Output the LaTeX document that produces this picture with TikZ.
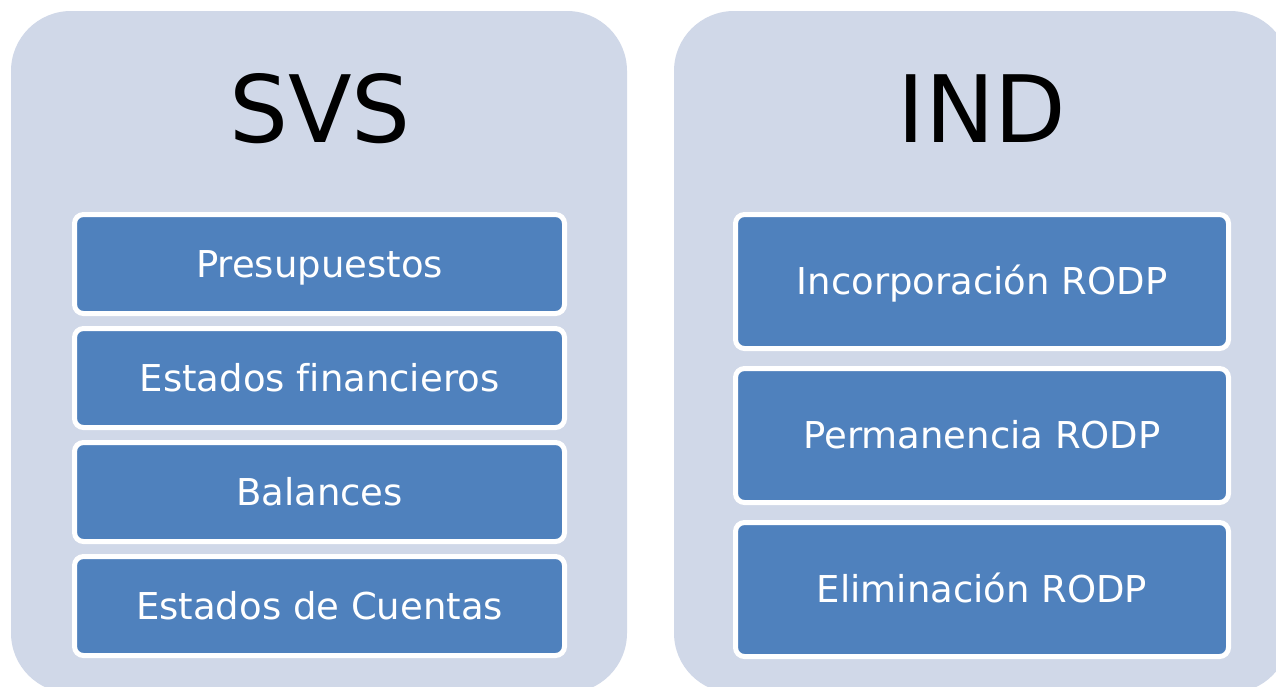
\documentclass[tikz,border=0pt]{standalone}
\usepackage{fontspec}
\setmainfont[Ligatures=NoCommon]{DejaVu Sans}
\definecolor{panelc}{HTML}{D0D8E8}
\definecolor{boxc}{HTML}{4F81BD}
\begin{document}
\begin{tikzpicture}[x=1pt,y=-1pt,
  panel/.style={rectangle, rounded corners=60pt, fill=panelc, draw=none, inner sep=0pt},
  title/.style={anchor=base, font=\fontsize{93}{93}\selectfont, text=black},
  lbox/.style={rectangle, rounded corners=9pt, fill=boxc, draw=white, line width=5pt,
    minimum width=490pt, minimum height=99pt, inner sep=0pt, text=white,
    font=\fontsize{37}{37}\selectfont, text height=26.5pt, text depth=0pt},
  rbox/.style={lbox, minimum width=493pt, minimum height=134pt}]
\useasboundingbox (0,0) rectangle (1276,686);
\clip (0,0) rectangle (1276,686);
\fill[white] (0,0) rectangle (1276,686);
\node[panel, minimum width=616pt, minimum height=682pt] (pl) at (319,352) {};
\node[panel, minimum width=616pt, minimum height=682pt] (pr) at (982,352) {};
\node[title] (svs) at (320,142) {SVS};
\node[title] (ind) at (982,142) {IND};
\node[lbox] (b1) at (319.5,264) {Presupuestos};
\node[lbox] (b2) at (319.5,378) {Estados financieros};
\node[lbox] (b3) at (319.5,492) {Balances};
\node[lbox] (b4) at (319.5,606) {Estados de Cuentas};
\node[rbox] (r1) at (982,281.5) {Incorporación RODP};
\node[rbox] (r2) at (982,435.5) {Permanencia RODP};
\node[rbox] (r3) at (982,589.5) {Eliminación RODP};
\end{tikzpicture}
\end{document}
